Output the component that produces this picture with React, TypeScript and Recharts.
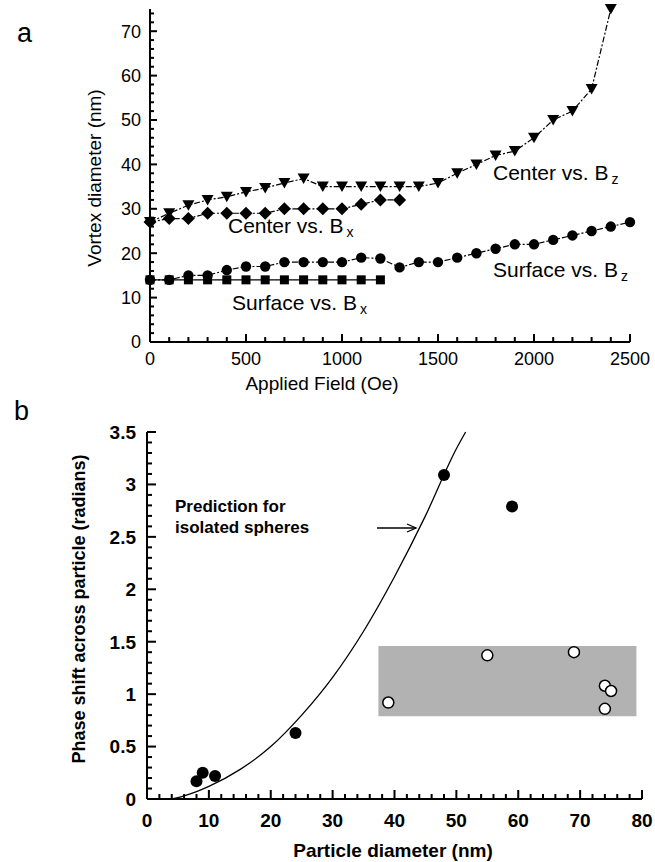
import React from 'react';
import {
  ScatterChart,
  ComposedChart,
  Scatter,
  Line,
  XAxis,
  YAxis,
  ReferenceArea,
  ReferenceLine,
} from 'recharts';

// ---------- Panel a data ----------
const centerBzField = [0, 100, 200, 300, 400, 500, 600, 700, 800, 900, 1000, 1100, 1200, 1300, 1400, 1500, 1600, 1700, 1800, 1900, 2000, 2100, 2200, 2300, 2400];
const centerBzDiam = [27, 29, 30.8, 32, 32.7, 33.8, 34.7, 35.8, 36.8, 35, 35, 35, 35, 35, 35, 35.8, 38, 40, 42, 43, 46, 50, 52, 57, 75];

const centerBxField = [0, 100, 200, 300, 400, 500, 600, 700, 800, 900, 1000, 1100, 1200, 1300];
const centerBxDiam = [27, 27.8, 27.8, 29, 29, 29, 29, 30, 30, 30, 30, 31, 32, 32];

const surfaceBzField = [0, 100, 200, 300, 400, 500, 600, 700, 800, 900, 1000, 1100, 1200, 1300, 1400, 1500, 1600, 1700, 1800, 1900, 2000, 2100, 2200, 2300, 2400, 2500];
const surfaceBzDiam = [14, 14, 15, 15, 16.2, 17, 17, 18, 18, 18, 18, 19, 18.8, 16.8, 18, 18, 19, 20, 21, 22, 22, 23, 24, 25, 26, 27];

const surfaceBxField = [0, 100, 200, 300, 400, 500, 600, 700, 800, 900, 1000, 1100, 1200];
const surfaceBxDiam = [14, 14, 14, 14, 14, 14, 14, 14, 14, 14, 14, 14, 14];

const fieldTickLabels = [0, 500, 1000, 1500, 2000, 2500];
const diamTickLabels = [0, 10, 20, 30, 40, 50, 60, 70];

// ---------- Panel b data ----------
const filledDiam = [8, 9, 11, 24, 48, 59];
const filledPhase = [0.17, 0.25, 0.22, 0.63, 3.09, 2.79];

const openDiam = [39, 55, 69, 74, 75, 74];
const openPhase = [0.92, 1.37, 1.4, 1.08, 1.03, 0.86];

const predictionDiam = [4, 6, 8, 10, 15, 20, 25, 30, 35, 40, 45, 50, 51.5];
const predictionPhase = [0, 0.03, 0.07, 0.12, 0.28, 0.5, 0.8, 1.16, 1.6, 2.12, 2.7, 3.34, 3.5];

const grayBoxDiam = [37.4, 79.1];
const grayBoxPhase = [0.79, 1.46];

const particleTickLabels = [0, 10, 20, 30, 40, 50, 60, 70, 80];
const phaseTickLabels = [0, 0.5, 1, 1.5, 2, 2.5, 3, 3.5];

const zip = (xs: number[], ys: number[]) => xs.map((x, i) => ({ x, y: ys[i] }));

const FONT = '"Liberation Sans", Arial, Helvetica, sans-serif';

const range = (start: number, end: number, step: number) => {
  const out: number[] = [];
  for (let i = 0; start + i * step <= end + 1e-9; i++) out.push(+(start + i * step).toFixed(4));
  return out;
};

const topXTicks = range(0, 2500, 100);
const topYTicks = range(0, 74, 2);
const botXTicks = range(0, 80, 2);
const botYTicks = range(0, 3.5, 0.1);

const isMajor = (v: number, labels: number[]) => labels.some((l) => Math.abs(l - v) < 1e-6);

// ---------- marker shapes ----------
const TriDown = (p: any) => {
  const { cx, cy } = p;
  if (cx == null || cy == null) return <g />;
  return <polygon points={`${cx - 6},${cy - 5} ${cx + 6},${cy - 5} ${cx},${cy + 5.5}`} fill="#000" />;
};
const Diamond = (p: any) => {
  const { cx, cy } = p;
  if (cx == null || cy == null) return <g />;
  return <polygon points={`${cx},${cy - 6.5} ${cx + 6.5},${cy} ${cx},${cy + 6.5} ${cx - 6.5},${cy}`} fill="#000" />;
};
const Dot = (p: any) => {
  const { cx, cy } = p;
  if (cx == null || cy == null) return <g />;
  return <circle cx={cx} cy={cy} r={5.2} fill="#000" />;
};
const Sq = (p: any) => {
  const { cx, cy } = p;
  if (cx == null || cy == null) return <g />;
  return <rect x={cx - 4.5} y={cy - 4.5} width={9} height={9} fill="#000" />;
};
const BigDot = (p: any) => {
  const { cx, cy } = p;
  if (cx == null || cy == null) return <g />;
  return <circle cx={cx} cy={cy} r={6} fill="#000" />;
};
const OpenDot = (p: any) => {
  const { cx, cy } = p;
  if (cx == null || cy == null) return <g />;
  return <circle cx={cx} cy={cy} r={5.5} fill="#fff" stroke="#000" strokeWidth={1.5} />;
};

// tick marks drawn as scatter glyphs at the tick positions (through the scales)
const XTickMark = (labels: number[], majorLen: number, minorLen: number) => (p: any) => {
  const { cx, cy } = p;
  const v = p.payload ? p.payload.x : p.x;
  const len = isMajor(v, labels) ? majorLen : minorLen;
  return <rect x={cx - 1} y={cy - len} width={2} height={len} fill="#000" />;
};
const YTickMark = (labels: number[], majorLen: number, minorLen: number) => (p: any) => {
  const { cx, cy } = p;
  const v = p.payload ? p.payload.y : p.y;
  const len = isMajor(v, labels) ? majorLen : minorLen;
  return <rect x={cx} y={cy - 1} width={len} height={2} fill="#000" />;
};

// ---------- tick labels ----------
const makeXLabel = (labels: number[], bold: boolean, dy: number, size: number) => (props: any) => {
  const { x, y, payload } = props;
  const v = payload.value;
  if (!isMajor(v, labels)) return <g />;
  return (
    <text x={x} y={Number(y) + dy} textAnchor="middle" fontFamily={FONT} fontSize={size} fontWeight={bold ? 'bold' : 'normal'} fill="#000">
      {String(v)}
    </text>
  );
};
const makeYLabel = (labels: number[], bold: boolean, dx: number, size: number) => (props: any) => {
  const { x, y, payload } = props;
  const v = payload.value;
  if (!isMajor(v, labels)) return <g />;
  return (
    <text x={Number(x) - dx} y={y} dy="0.36em" textAnchor="end" fontFamily={FONT} fontSize={size} fontWeight={bold ? 'bold' : 'normal'} fill="#000">
      {String(v)}
    </text>
  );
};

const dashDot = { stroke: '#000', strokeWidth: 1.2, strokeDasharray: '6 2 2 2' };

const topXTickData = topXTicks.map((v) => ({ x: v, y: 0 }));
const topYTickData = topYTicks.map((v) => ({ x: 0, y: v }));
const botXTickData = botXTicks.map((v) => ({ x: v, y: 0 }));
const botYTickData = botYTicks.map((v) => ({ x: 0, y: v }));

const topXMark = XTickMark(fieldTickLabels, 8, 5);
const topYMark = YTickMark(diamTickLabels, 7, 4);
const botXMark = XTickMark(particleTickLabels, 9, 5);
const botYMark = YTickMark(phaseTickLabels, 9, 5);

const topXLabel = makeXLabel(fieldTickLabels, false, 23, 18);
const topYLabel = makeYLabel(diamTickLabels, false, 9, 18);
const botXLabel = makeXLabel(particleTickLabels, true, 28, 19);
const botYLabel = makeYLabel(phaseTickLabels, true, 11, 19);

const sBx = zip(surfaceBxField, surfaceBxDiam);
const sBz = zip(surfaceBzField, surfaceBzDiam);
const cBx = zip(centerBxField, centerBxDiam);
const cBz = zip(centerBzField, centerBzDiam);
const filled = zip(filledDiam, filledPhase);
const open = zip(openDiam, openPhase);
const prediction = zip(predictionDiam, predictionPhase);

export default function App() {
  return (
    <div style={{ position: 'absolute', left: 0, top: 0, width: 655, height: 862, background: '#fff' }}>
      <div style={{ position: 'absolute', left: 0, top: 0 }}>
        <ScatterChart width={655} height={400} margin={{ top: 9, right: 25, bottom: 57, left: 149 }}>
          <XAxis
            type="number"
            dataKey="x"
            domain={[0, 2500]}
            ticks={topXTicks}
            interval={0}
            height={1}
            tickSize={0}
            tickMargin={0}
            axisLine={{ stroke: '#000', strokeWidth: 2 }}
            tickLine={false}
            tick={topXLabel}
          />
          <YAxis
            type="number"
            dataKey="y"
            domain={[0, 75]}
            ticks={topYTicks}
            interval={0}
            width={1}
            tickSize={0}
            tickMargin={0}
            axisLine={{ stroke: '#000', strokeWidth: 2 }}
            tickLine={false}
            tick={topYLabel}
          />
          <Scatter name="xticks" data={topXTickData} shape={topXMark} isAnimationActive={false} />
          <Scatter name="yticks" data={topYTickData} shape={topYMark} isAnimationActive={false} />
          <Scatter name="surfaceBx" data={sBx} shape={Sq} line={{ stroke: '#000', strokeWidth: 1.2 }} isAnimationActive={false} />
          <Scatter name="surfaceBz" data={sBz} shape={Dot} line={dashDot} isAnimationActive={false} />
          <Scatter name="centerBx" data={cBx} shape={Diamond} line={dashDot} isAnimationActive={false} />
          <Scatter name="centerBz" data={cBz} shape={TriDown} line={dashDot} isAnimationActive={false} />
        </ScatterChart>
      </div>

      <div style={{ position: 'absolute', left: 0, top: 400 }}>
        <ComposedChart width={655} height={462} margin={{ top: 32, right: 13, bottom: 62, left: 146 }}>
          <XAxis
            type="number"
            dataKey="x"
            domain={[0, 80]}
            ticks={botXTicks}
            interval={0}
            height={1}
            tickSize={0}
            tickMargin={0}
            axisLine={{ stroke: '#000', strokeWidth: 2 }}
            tickLine={false}
            tick={botXLabel}
          />
          <YAxis
            type="number"
            dataKey="y"
            domain={[0, 3.5]}
            ticks={botYTicks}
            interval={0}
            width={1}
            tickSize={0}
            tickMargin={0}
            axisLine={{ stroke: '#000', strokeWidth: 2 }}
            tickLine={false}
            tick={botYLabel}
          />
          <ReferenceArea
            x1={grayBoxDiam[0]}
            x2={grayBoxDiam[1]}
            y1={grayBoxPhase[0]}
            y2={grayBoxPhase[1]}
            fill="#b2b2b2"
            fillOpacity={1}
            stroke="none"
          />
          <Line
            data={prediction}
            dataKey="y"
            type="monotone"
            stroke="#000"
            strokeWidth={1.3}
            dot={false}
            activeDot={false}
            isAnimationActive={false}
          />
          <Scatter name="bxticks" data={botXTickData} dataKey="y" shape={botXMark} isAnimationActive={false} />
          <Scatter name="byticks" data={botYTickData} dataKey="y" shape={botYMark} isAnimationActive={false} />
          <Scatter name="filled" data={filled} dataKey="y" shape={BigDot} isAnimationActive={false} />
          <Scatter name="open" data={open} dataKey="y" shape={OpenDot} isAnimationActive={false} />
        </ComposedChart>
      </div>

      <svg width={655} height={862} style={{ position: 'absolute', left: 0, top: 0, pointerEvents: 'none' }} fontFamily={FONT}>
        <text x={17} y={42} fontSize={27}>a</text>
        <text x={14} y={420} fontSize={27}>b</text>

        <text transform="translate(101,178) rotate(-90)" textAnchor="middle" fontSize={19}>Vortex diameter (nm)</text>
        <text x={322} y={390} textAnchor="middle" fontSize={19}>Applied Field (Oe)</text>

        <text x={493} y={180} fontSize={21}>
          Center vs. B<tspan fontSize={14} dx={3} dy={4}>z</tspan>
        </text>
        <text x={228} y={233} fontSize={21}>
          Center vs. B<tspan fontSize={14} dx={3} dy={4}>x</tspan>
        </text>
        <text x={493} y={277} fontSize={21}>
          Surface vs. B<tspan fontSize={14} dx={3} dy={4}>z</tspan>
        </text>
        <text x={232} y={310} fontSize={21}>
          Surface vs. B<tspan fontSize={14} dx={3} dy={4}>x</tspan>
        </text>

        <text x={175} y={512} fontSize={17} fontWeight="bold">Prediction for</text>
        <text x={175} y={533} fontSize={17} fontWeight="bold">isolated spheres</text>
        <line x1={377} y1={528} x2={416} y2={528} stroke="#000" strokeWidth={1.3} />
        <polyline points="407,524 416,528 407,532" fill="none" stroke="#000" strokeWidth={1.3} />

        <text transform="translate(85,609) rotate(-90)" textAnchor="middle" fontSize={18} fontWeight="bold">
          Phase shift across particle (radians)
        </text>
        <text x={393} y={857} textAnchor="middle" fontSize={19} fontWeight="bold">Particle diameter (nm)</text>
      </svg>
    </div>
  );
}
